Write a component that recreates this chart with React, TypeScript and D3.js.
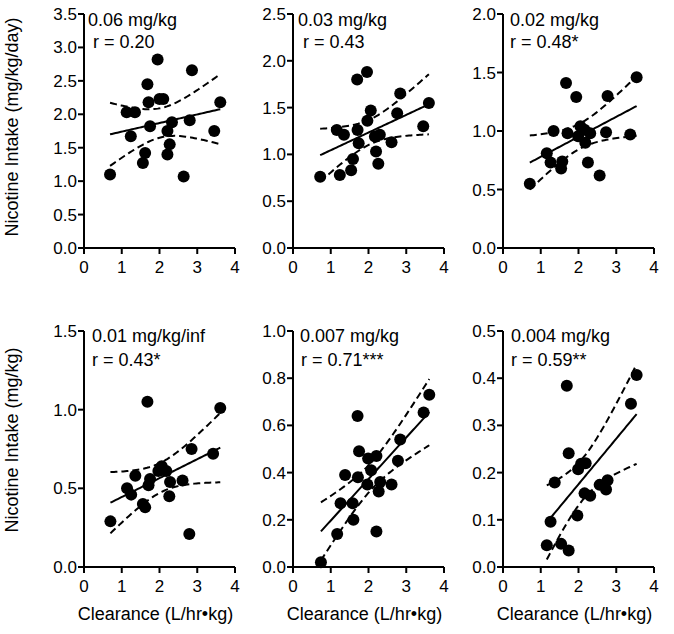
import React from "react";
import * as d3 from "d3";

const clear1 = [0.69,1.13,1.35,1.24,1.68,1.71,1.62,1.56,1.75,1.95,2.0,2.1,2.21,2.33,2.27,2.21,2.64,2.8,2.86,3.45,3.61];
const intake1 = [1.10,2.03,2.03,1.67,2.45,2.18,1.42,1.27,1.82,2.82,2.23,2.23,1.75,1.88,1.55,1.40,1.07,1.91,2.66,1.75,2.18];

const clear2 = [0.72,1.24,1.54,1.59,1.16,1.35,1.71,1.74,1.70,1.96,1.97,2.06,2.17,2.30,2.20,2.26,2.61,2.76,2.84,3.45,3.60];
const intake2 = [0.76,0.78,0.83,0.95,1.26,1.21,1.26,1.12,1.80,1.88,1.36,1.47,1.19,1.21,1.03,0.90,1.13,1.44,1.65,1.30,1.55];

const clear3 = [0.71,1.16,1.26,1.57,1.54,1.34,1.67,1.71,1.94,1.99,2.05,2.16,2.18,2.31,2.25,2.56,2.73,2.77,3.37,3.54];
const intake3 = [0.55,0.81,0.73,0.74,0.68,1.00,1.41,0.98,1.29,0.955,1.04,1.01,0.90,0.98,0.73,0.62,0.99,1.30,0.97,1.46];

const clear4 = [0.70,1.14,1.25,1.36,1.56,1.62,1.68,1.71,1.75,1.97,2.06,2.18,2.28,2.26,2.61,2.79,2.85,3.42,3.61];
const intake4 = [0.29,0.50,0.46,0.58,0.40,0.38,1.05,0.52,0.56,0.61,0.64,0.61,0.54,0.45,0.55,0.21,0.75,0.72,1.01];

const clear5 = [0.74,1.17,1.26,1.38,1.58,1.60,1.71,1.72,1.75,1.97,1.99,2.07,2.21,2.27,2.31,2.21,2.61,2.78,2.84,3.46,3.61];
const intake5 = [0.02,0.14,0.27,0.39,0.27,0.20,0.64,0.38,0.49,0.35,0.46,0.41,0.47,0.32,0.36,0.15,0.35,0.45,0.54,0.655,0.73];

const clear6 = [1.16,1.54,1.74,1.26,1.37,1.69,1.74,1.97,1.99,2.07,2.19,2.16,2.31,2.56,2.73,2.77,3.39,3.54];
const intake6 = [0.046,0.049,0.035,0.096,0.179,0.384,0.241,0.109,0.207,0.219,0.22,0.156,0.151,0.174,0.164,0.184,0.346,0.407];

const doses = ["0.06 mg/kg", "0.03 mg/kg", "0.02 mg/kg", "0.01 mg/kg/inf", "0.007 mg/kg", "0.004 mg/kg"];
const rLabels = ["r = 0.20", "r = 0.43", "r = 0.48*", "r = 0.43*", "r = 0.71***", "r = 0.59**"];
const yMaxes = [3.5, 2.5, 2.0, 1.5, 1.0, 0.5];
const yStepSizes = [0.5, 0.5, 0.5, 0.5, 0.2, 0.1];
const xTicks = [0, 1, 2, 3, 4];
const yTitles = ["Nicotine Intake (mg/kg/day)", "Nicotine Intake (mg/kg)"];
const xTitle = "Clearance (L/hr\u2022kg)";

const xs = [clear1, clear2, clear3, clear4, clear5, clear6];
const ys = [intake1, intake2, intake3, intake4, intake5, intake6];

const FONT = "'Liberation Sans', Arial, Helvetica, sans-serif";
const colLeft = [84, 293, 503];
const plotW = 151;
const rowTop = [14, 331];
const rowBottom = [248, 567];
const annX = [[88, 93], [298, 303], [510, 510], [92, 92], [300, 301], [511, 511]];

// t quantile (two-sided 95%) for given df
function tCrit(df: number) {
  const table: Record<number, number> = { 14: 2.145, 15: 2.131, 16: 2.12, 17: 2.11, 18: 2.101, 19: 2.093, 20: 2.086, 21: 2.08, 22: 2.074 };
  return table[df] ?? 2.09;
}

function regression(x: number[], y: number[]) {
  const n = x.length;
  const mx = d3.mean(x)!;
  const my = d3.mean(y)!;
  let sxx = 0, sxy = 0;
  for (let i = 0; i < n; i++) {
    sxx += (x[i] - mx) ** 2;
    sxy += (x[i] - mx) * (y[i] - my);
  }
  const b = sxy / sxx;
  const a = my - b * mx;
  let sse = 0;
  for (let i = 0; i < n; i++) sse += (y[i] - a - b * x[i]) ** 2;
  const s = Math.sqrt(sse / (n - 2));
  const t = tCrit(n - 2);
  const [x0, x1] = d3.extent(x) as [number, number];
  const grid = d3.range(0, 61).map((i) => x0 + ((x1 - x0) * i) / 60);
  const fit = grid.map((g) => ({ x: g, y: a + b * g, h: t * s * Math.sqrt(1 / n + (g - mx) ** 2 / sxx) }));
  return fit;
}

function Panel({ idx }: { idx: number }) {
  const col = idx % 3;
  const row = Math.floor(idx / 3);
  const xScale = d3.scaleLinear().domain([0, 4]).range([colLeft[col], colLeft[col] + plotW]);
  const yScale = d3.scaleLinear().domain([0, yMaxes[idx]]).range([rowBottom[row], rowTop[row]]);
  const yTicks = d3.range(0, yMaxes[idx] + 1e-9, yStepSizes[idx]);
  const fit = regression(xs[idx], ys[idx]);
  const line = d3.line<{ x: number; y: number }>().x((d) => xScale(d.x)).y((d) => yScale(d.y));
  const mid = line(fit.map((f) => ({ x: f.x, y: f.y })))!;
  const up = line(fit.map((f) => ({ x: f.x, y: f.y + f.h })))!;
  const lo = line(fit.map((f) => ({ x: f.x, y: f.y - f.h })))!;
  const x0 = colLeft[col];
  const yb = rowBottom[row];
  return (
    <g>
      {/* axes */}
      <line x1={x0} x2={x0} y1={yScale(yMaxes[idx])} y2={yb + 1} stroke="#000" strokeWidth={2} />
      <line x1={x0 - 1} x2={x0 + plotW} y1={yb} y2={yb} stroke="#000" strokeWidth={2} />
      {yTicks.map((t) => (
        <g key={"y" + t}>
          <line x1={x0 - 6} x2={x0} y1={yScale(t)} y2={yScale(t)} stroke="#000" strokeWidth={2} />
          <text x={x0 - 7} y={yScale(t) + 6} textAnchor="end" fontSize={17} fontFamily={FONT}>
            {d3.format(".1f")(t)}
          </text>
        </g>
      ))}
      {xTicks.map((t) => (
        <g key={"x" + t}>
          <line x1={xScale(t)} x2={xScale(t)} y1={yb} y2={yb + 6} stroke="#000" strokeWidth={2} />
          <text x={xScale(t)} y={yb + 25} textAnchor="middle" fontSize={17} fontFamily={FONT}>
            {t}
          </text>
        </g>
      ))}
      {/* points */}
      {xs[idx].map((xv, i) => (
        <circle key={i} cx={xScale(xv)} cy={yScale(ys[idx][i])} r={6} fill="#000" />
      ))}
      {/* regression */}
      <path d={mid} fill="none" stroke="#000" strokeWidth={2} />
      <path d={up} fill="none" stroke="#000" strokeWidth={2} strokeDasharray="7,4" />
      <path d={lo} fill="none" stroke="#000" strokeWidth={2} strokeDasharray="7,4" />
      {/* annotations */}
      <text x={annX[idx][0]} y={row === 0 ? 26 : 342} fontSize={18} fontFamily={FONT}>
        {doses[idx]}
      </text>
      <text x={annX[idx][1]} y={row === 0 ? 48 : 366} fontSize={18} fontFamily={FONT}>
        {rLabels[idx]}
      </text>
      {row === 1 && (
        <text x={x0 + plotW / 2 - 4} y={620} textAnchor="middle" fontSize={18} fontFamily={FONT}>
          {xTitle}
        </text>
      )}
    </g>
  );
}

export default function App() {
  return (
    <div style={{ position: "absolute", left: 0, top: 0 }}>
      <svg width={674} height={634} style={{ display: "block", background: "#fff" }}>
        {[0, 1, 2, 3, 4, 5].map((i) => (
          <Panel key={i} idx={i} />
        ))}
        <text transform={`translate(18,127) rotate(-90)`} textAnchor="middle" fontSize={18} fontFamily={FONT}>
          {yTitles[0]}
        </text>
        <text transform={`translate(18,440) rotate(-90)`} textAnchor="middle" fontSize={18} fontFamily={FONT}>
          {yTitles[1]}
        </text>
      </svg>
    </div>
  );
}
